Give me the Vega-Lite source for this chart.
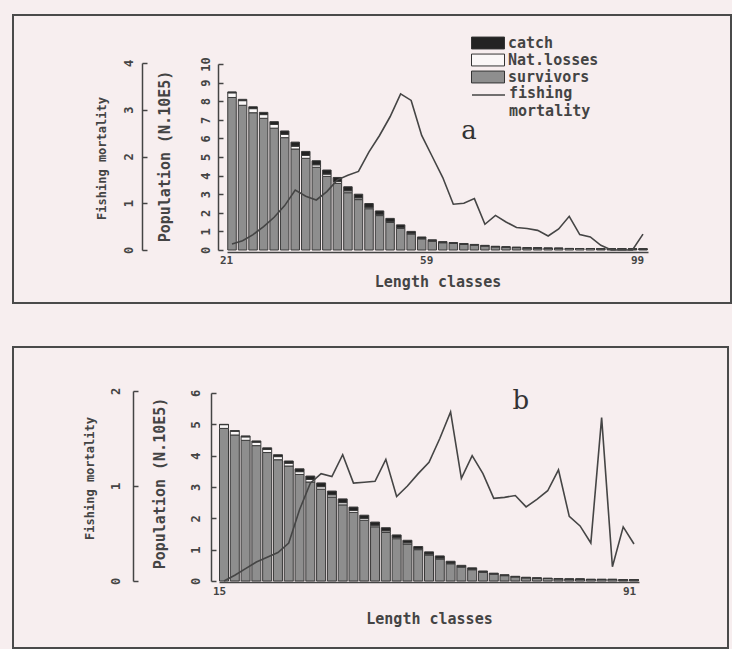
{
  "$schema": "https://vega.github.io/schema/vega-lite/v6.json",
  "background": "#f7eeef",
  "padding": {"left": 12, "top": 14, "right": 0, "bottom": 0},
  "spacing": 42,
  "config": {
    "view": {"stroke": "#4a4a4a", "strokeWidth": 2},
    "font": "DejaVu Sans Mono",
    "axis": {"grid": false, "domainColor": "#444", "domainWidth": 1.5, "tickColor": "#444", "tickWidth": 1.5, "labelFont": "DejaVu Sans Mono", "labelFontWeight": "bold", "labelColor": "#444", "titleFont": "DejaVu Sans Mono", "titleFontWeight": "bold", "titleColor": "#444", "labelFlush": false, "labelOverlap": false},
    "legend": {"padding": 0, "labelFont": "DejaVu Sans Mono", "labelFontWeight": "bold", "labelColor": "#444", "labelFontSize": 15}
  },
  "vconcat": [
    {
      "width": 718,
      "height": 288,
      "data": {"values": [
        {"cls": 21, "survivors": 8.20, "nat": 0.25, "catch": 0.05, "F": 0.13},
        {"cls": 23, "survivors": 7.78, "nat": 0.25, "catch": 0.07, "F": 0.20},
        {"cls": 25, "survivors": 7.38, "nat": 0.22, "catch": 0.10, "F": 0.33},
        {"cls": 27, "survivors": 7.08, "nat": 0.20, "catch": 0.12, "F": 0.50},
        {"cls": 29, "survivors": 6.55, "nat": 0.20, "catch": 0.15, "F": 0.70},
        {"cls": 31, "survivors": 6.04, "nat": 0.18, "catch": 0.18, "F": 0.95},
        {"cls": 33, "survivors": 5.43, "nat": 0.15, "catch": 0.22, "F": 1.28},
        {"cls": 35, "survivors": 4.93, "nat": 0.15, "catch": 0.22, "F": 1.15},
        {"cls": 37, "survivors": 4.45, "nat": 0.13, "catch": 0.22, "F": 1.07},
        {"cls": 39, "survivors": 3.96, "nat": 0.12, "catch": 0.22, "F": 1.25},
        {"cls": 41, "survivors": 3.58, "nat": 0.10, "catch": 0.22, "F": 1.50},
        {"cls": 43, "survivors": 3.08, "nat": 0.10, "catch": 0.22, "F": 1.60},
        {"cls": 45, "survivors": 2.71, "nat": 0.09, "catch": 0.20, "F": 1.68},
        {"cls": 47, "survivors": 2.22, "nat": 0.08, "catch": 0.20, "F": 2.10},
        {"cls": 49, "survivors": 1.85, "nat": 0.07, "catch": 0.18, "F": 2.45},
        {"cls": 51, "survivors": 1.48, "nat": 0.06, "catch": 0.16, "F": 2.85},
        {"cls": 53, "survivors": 1.16, "nat": 0.05, "catch": 0.14, "F": 3.34},
        {"cls": 55, "survivors": 0.86, "nat": 0.04, "catch": 0.10, "F": 3.20},
        {"cls": 57, "survivors": 0.60, "nat": 0.03, "catch": 0.07, "F": 2.45},
        {"cls": 59, "survivors": 0.47, "nat": 0.03, "catch": 0.05, "F": 2.00},
        {"cls": 61, "survivors": 0.39, "nat": 0.02, "catch": 0.04, "F": 1.55},
        {"cls": 63, "survivors": 0.35, "nat": 0.02, "catch": 0.03, "F": 0.98},
        {"cls": 65, "survivors": 0.30, "nat": 0.02, "catch": 0.03, "F": 1.00},
        {"cls": 67, "survivors": 0.26, "nat": 0.02, "catch": 0.02, "F": 1.10},
        {"cls": 69, "survivors": 0.22, "nat": 0.01, "catch": 0.02, "F": 0.55},
        {"cls": 71, "survivors": 0.17, "nat": 0.01, "catch": 0.02, "F": 0.74},
        {"cls": 73, "survivors": 0.15, "nat": 0.01, "catch": 0.01, "F": 0.60},
        {"cls": 75, "survivors": 0.13, "nat": 0.01, "catch": 0.01, "F": 0.48},
        {"cls": 77, "survivors": 0.11, "nat": 0.01, "catch": 0.01, "F": 0.46},
        {"cls": 79, "survivors": 0.10, "nat": 0.01, "catch": 0.01, "F": 0.42},
        {"cls": 81, "survivors": 0.09, "nat": 0.005, "catch": 0.005, "F": 0.30},
        {"cls": 83, "survivors": 0.09, "nat": 0, "catch": 0.005, "F": 0.45},
        {"cls": 85, "survivors": 0.08, "nat": 0, "catch": 0.005, "F": 0.72},
        {"cls": 87, "survivors": 0.08, "nat": 0, "catch": 0, "F": 0.33},
        {"cls": 89, "survivors": 0.08, "nat": 0, "catch": 0, "F": 0.28},
        {"cls": 91, "survivors": 0.07, "nat": 0, "catch": 0, "F": 0.10},
        {"cls": 93, "survivors": 0.07, "nat": 0, "catch": 0, "F": 0},
        {"cls": 95, "survivors": 0.07, "nat": 0, "catch": 0, "F": 0},
        {"cls": 97, "survivors": 0.06, "nat": 0, "catch": 0, "F": 0},
        {"cls": 99, "survivors": 0.06, "nat": 0, "catch": 0, "F": 0.34}
      ]},
      "layer": [
        {
          "transform": [
            {"fold": ["survivors", "nat", "catch"], "as": ["series", "value"]},
            {"calculate": "indexof(['survivors','nat','catch'], datum.series)", "as": "ord"}
          ],
          "mark": {"type": "bar", "size": 8.5, "stroke": "#3a3a3a", "strokeWidth": 1},
          "encoding": {
            "x": {"field": "cls", "type": "quantitative",
              "scale": {"domain": [21, 99], "range": [214, 635], "nice": false, "zero": false},
              "axis": {"values": [21, 59, 99], "offset": -51, "ticks": false, "labelFontSize": 11, "labelOffset": -6, "labelPadding": 2, "title": "Length classes", "titleFontSize": 15, "titlePadding": 9}},
            "y": {"field": "value", "type": "quantitative", "stack": "zero",
              "scale": {"domain": [0, 10], "range": [235, 49], "nice": false},
              "axis": {"orient": "left", "offset": -205, "values": [0,1,2,3,4,5,6,7,8,9,10], "format": "d", "tickSize": -5, "labelPadding": 11, "labelFontSize": 12, "labelAngle": -90, "labelAlign": "center", "labelBaseline": "bottom", "title": "Population (N.10E5)", "titleFontSize": 15, "titleX": -54, "titleY": 141, "titleAngle": -90, "titleAlign": "center", "titleBaseline": "middle"}},
            "fill": {"field": "series", "type": "nominal",
              "scale": {"domain": ["catch", "nat", "survivors"], "range": ["#232323", "#faf7f7", "#8e8e8e"]},
              "legend": {"orient": "none", "legendX": 458, "legendY": 19.5, "title": null, "symbolType": "M-1,-0.36H1V0.36H-1Z", "symbolSize": 1089, "symbolStrokeColor": "#333", "symbolStrokeWidth": 1, "clipHeight": 17, "rowPadding": 0, "labelOffset": 3, "labelExpr": "datum.label == 'nat' ? 'Nat.losses' : datum.label"}},
            "order": {"field": "ord", "type": "quantitative"}
          }
        },
        {
          "mark": {"type": "line", "strokeWidth": 1.6},
          "encoding": {
            "x": {"field": "cls", "type": "quantitative", "scale": {"domain": [21, 99], "range": [214, 635], "nice": false, "zero": false}},
            "y": {"field": "F", "type": "quantitative",
              "scale": {"domain": [0, 4], "range": [235, 48], "nice": false},
              "axis": {"orient": "left", "offset": -129, "values": [0,1,2,3,4], "format": "d", "tickSize": -5, "labelPadding": 12, "labelFontSize": 12, "labelAngle": -90, "labelAlign": "center", "labelBaseline": "bottom", "title": "Fishing mortality", "titleFontSize": 12, "titleX": -41, "titleY": 143, "titleAngle": -90, "titleAlign": "center", "titleBaseline": "middle"}},
            "stroke": {"datum": "fishing mortality", "type": "nominal",
              "scale": {"range": ["#454545"]},
              "legend": {"orient": "none", "legendX": 458, "legendY": 62.5, "title": null, "symbolType": "M-1,0H1", "symbolSize": 1089, "symbolStrokeWidth": 1.5, "labelOffset": 3, "labelBaseline": "top", "labelExpr": "['fishing', ' mortality']",
                "encode": {"labels": {"update": {"dy": {"value": -9}, "lineHeight": {"value": 18}}}}}}
          }
        },
        {
          "data": {"values": [{"tag": "a"}]},
          "mark": {"type": "text", "font": "DejaVu Serif", "fontSize": 26, "color": "#333"},
          "encoding": {
            "x": {"datum": 66, "type": "quantitative"},
            "y": {"datum": 6.4, "type": "quantitative", "scale": {"domain": [0, 10], "range": [235, 49], "nice": false}, "axis": null},
            "text": {"field": "tag"}
          }
        }
      ],
      "resolve": {"scale": {"y": "independent"}}
    },
    {
      "width": 715,
      "height": 301,
      "data": {"values": [
        {"cls": 15, "survivors": 4.87, "nat": 0.12, "catch": 0.01, "F": 0.00},
        {"cls": 17, "survivors": 4.66, "nat": 0.12, "catch": 0.02, "F": 0.06},
        {"cls": 19, "survivors": 4.49, "nat": 0.11, "catch": 0.03, "F": 0.13},
        {"cls": 21, "survivors": 4.32, "nat": 0.11, "catch": 0.04, "F": 0.20},
        {"cls": 23, "survivors": 4.10, "nat": 0.10, "catch": 0.05, "F": 0.25},
        {"cls": 25, "survivors": 3.87, "nat": 0.10, "catch": 0.06, "F": 0.30},
        {"cls": 27, "survivors": 3.67, "nat": 0.09, "catch": 0.07, "F": 0.40},
        {"cls": 29, "survivors": 3.40, "nat": 0.09, "catch": 0.09, "F": 0.75},
        {"cls": 31, "survivors": 3.16, "nat": 0.08, "catch": 0.11, "F": 1.03},
        {"cls": 33, "survivors": 2.93, "nat": 0.08, "catch": 0.12, "F": 1.13},
        {"cls": 35, "survivors": 2.68, "nat": 0.07, "catch": 0.12, "F": 1.10},
        {"cls": 37, "survivors": 2.43, "nat": 0.07, "catch": 0.12, "F": 1.33},
        {"cls": 39, "survivors": 2.19, "nat": 0.06, "catch": 0.11, "F": 1.03},
        {"cls": 41, "survivors": 1.94, "nat": 0.06, "catch": 0.10, "F": 1.04},
        {"cls": 43, "survivors": 1.73, "nat": 0.05, "catch": 0.10, "F": 1.05},
        {"cls": 45, "survivors": 1.55, "nat": 0.05, "catch": 0.10, "F": 1.28},
        {"cls": 47, "survivors": 1.35, "nat": 0.04, "catch": 0.08, "F": 0.89},
        {"cls": 49, "survivors": 1.18, "nat": 0.04, "catch": 0.08, "F": 1.00},
        {"cls": 51, "survivors": 1.00, "nat": 0.03, "catch": 0.07, "F": 1.13},
        {"cls": 53, "survivors": 0.83, "nat": 0.03, "catch": 0.07, "F": 1.25},
        {"cls": 55, "survivors": 0.70, "nat": 0.03, "catch": 0.07, "F": 1.50},
        {"cls": 57, "survivors": 0.55, "nat": 0.02, "catch": 0.06, "F": 1.78},
        {"cls": 59, "survivors": 0.44, "nat": 0.02, "catch": 0.04, "F": 1.08},
        {"cls": 61, "survivors": 0.36, "nat": 0.02, "catch": 0.04, "F": 1.32},
        {"cls": 63, "survivors": 0.28, "nat": 0.01, "catch": 0.03, "F": 1.13},
        {"cls": 65, "survivors": 0.22, "nat": 0.01, "catch": 0.02, "F": 0.87},
        {"cls": 67, "survivors": 0.17, "nat": 0.01, "catch": 0.02, "F": 0.88},
        {"cls": 69, "survivors": 0.13, "nat": 0.01, "catch": 0.01, "F": 0.90},
        {"cls": 71, "survivors": 0.10, "nat": 0.01, "catch": 0.01, "F": 0.78},
        {"cls": 73, "survivors": 0.09, "nat": 0, "catch": 0.01, "F": 0.86},
        {"cls": 75, "survivors": 0.08, "nat": 0, "catch": 0.01, "F": 0.95},
        {"cls": 77, "survivors": 0.07, "nat": 0, "catch": 0.01, "F": 1.17},
        {"cls": 79, "survivors": 0.06, "nat": 0, "catch": 0, "F": 0.68},
        {"cls": 81, "survivors": 0.06, "nat": 0, "catch": 0, "F": 0.58},
        {"cls": 83, "survivors": 0.05, "nat": 0, "catch": 0, "F": 0.40},
        {"cls": 85, "survivors": 0.05, "nat": 0, "catch": 0, "F": 1.72},
        {"cls": 87, "survivors": 0.05, "nat": 0, "catch": 0, "F": 0.15},
        {"cls": 89, "survivors": 0.04, "nat": 0, "catch": 0, "F": 0.57},
        {"cls": 91, "survivors": 0.04, "nat": 0, "catch": 0, "F": 0.39}
      ]},
      "layer": [
        {
          "transform": [
            {"fold": ["survivors", "nat", "catch"], "as": ["series", "value"]},
            {"calculate": "indexof(['survivors','nat','catch'], datum.series)", "as": "ord"}
          ],
          "mark": {"type": "bar", "size": 9, "stroke": "#3a3a3a", "strokeWidth": 1},
          "encoding": {
            "x": {"field": "cls", "type": "quantitative",
              "scale": {"domain": [15, 91], "range": [206, 626], "nice": false, "zero": false},
              "axis": {"values": [15, 91], "offset": -66, "ticks": false, "labelFontSize": 11, "labelOffset": -5, "labelPadding": 3, "title": "Length classes", "titleFontSize": 15, "titlePadding": 15}},
            "y": {"field": "value", "type": "quantitative", "stack": "zero",
              "scale": {"domain": [0, 6], "range": [234, 46], "nice": false},
              "axis": {"orient": "left", "offset": -198, "values": [0,1,2,3,4,5,6], "format": "d", "tickSize": -5, "labelPadding": 14, "labelFontSize": 12, "labelAngle": -90, "labelAlign": "center", "labelBaseline": "bottom", "title": "Population (N.10E5)", "titleFontSize": 15, "titleX": -52, "titleY": 136, "titleAngle": -90, "titleAlign": "center", "titleBaseline": "middle"}},
            "fill": {"field": "series", "type": "nominal",
              "scale": {"domain": ["catch", "nat", "survivors"], "range": ["#232323", "#faf7f7", "#8e8e8e"]},
              "legend": {"orient": "none", "legendX": 268, "legendY": 10.5, "title": null, "symbolType": "M-1,-0.36H1V0.36H-1Z", "symbolSize": 1089, "symbolStrokeColor": "#333", "symbolStrokeWidth": 1, "clipHeight": 17, "rowPadding": 0, "labelOffset": 3, "labelExpr": "datum.label == 'nat' ? 'Nat.losses' : datum.label"}},
            "order": {"field": "ord", "type": "quantitative"}
          }
        },
        {
          "mark": {"type": "line", "strokeWidth": 1.6},
          "encoding": {
            "x": {"field": "cls", "type": "quantitative", "scale": {"domain": [15, 91], "range": [206, 626], "nice": false, "zero": false}},
            "y": {"field": "F", "type": "quantitative",
              "scale": {"domain": [0, 2], "range": [234, 44], "nice": false},
              "axis": {"orient": "left", "offset": -120, "values": [0, 1, 2], "labelExpr": "format(datum.value, 'd')", "tickSize": -5, "labelPadding": 16, "labelFontSize": 12, "labelAngle": -90, "labelAlign": "center", "labelBaseline": "bottom", "title": "Fishing mortality", "titleFontSize": 12, "titleX": -44, "titleY": 131, "titleAngle": -90, "titleAlign": "center", "titleBaseline": "middle"}},
            "stroke": {"datum": "fishing mortality", "type": "nominal",
              "scale": {"range": ["#454545"]},
              "legend": {"orient": "none", "legendX": 268, "legendY": 53.5, "title": null, "symbolType": "M-1,0H1", "symbolSize": 1089, "symbolStrokeWidth": 1.5, "labelOffset": 3, "labelBaseline": "top", "labelExpr": "['fishing', ' mortality']",
                "encode": {"labels": {"update": {"dy": {"value": -9}, "lineHeight": {"value": 18}}}}}}
          }
        },
        {
          "data": {"values": [{"tag": "b"}]},
          "mark": {"type": "text", "font": "DejaVu Serif", "fontSize": 26, "color": "#333"},
          "encoding": {
            "x": {"datum": 70, "type": "quantitative"},
            "y": {"datum": 5.75, "type": "quantitative", "scale": {"domain": [0, 6], "range": [234, 46], "nice": false}, "axis": null},
            "text": {"field": "tag"}
          }
        }
      ],
      "resolve": {"scale": {"y": "independent"}}
    }
  ]
}
